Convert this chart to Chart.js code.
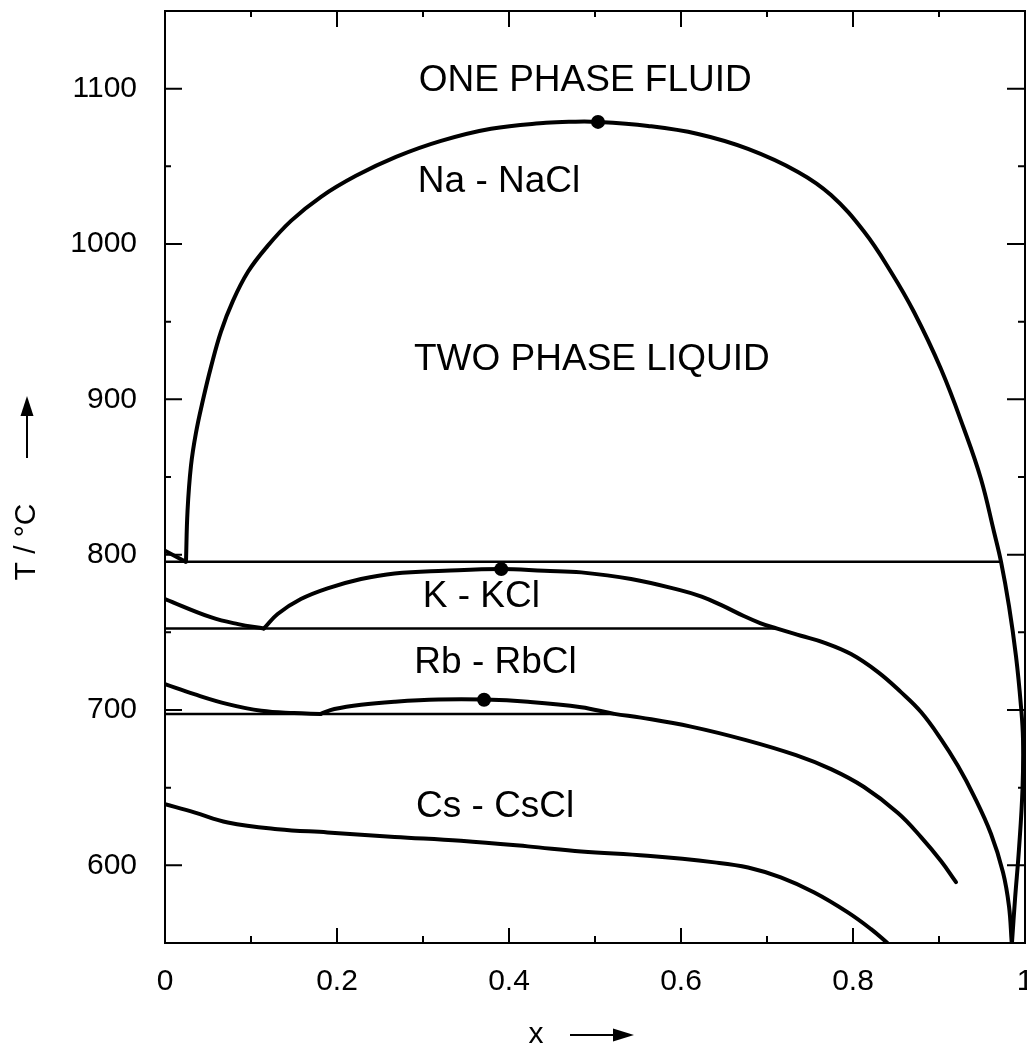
<!DOCTYPE html>
<html><head><meta charset="utf-8">
<script src="https://cdn.jsdelivr.net/npm/chart.js@4.4.0/dist/chart.umd.min.js"></script>
<style>html,body{margin:0;padding:0;background:#fff}#wrap{width:1027px;height:1050px}</style>
</head><body><div id="wrap"><canvas id="c" width="1027" height="1050"></canvas></div>
<script>
// ---- axis ticks ----
const xTickValues = [0, 0.2, 0.4, 0.6, 0.8, 1];
const xTickLabels = ['0', '0.2', '0.4', '0.6', '0.8', '1'];
const xMinorValues = [0.1, 0.3, 0.5, 0.7, 0.9];
const yTickValues = [600, 700, 800, 900, 1000, 1100];
const yTickLabels = ['600', '700', '800', '900', '1000', '1100'];
const yMinorValues = [650, 750, 850, 950, 1050];

// ---- Na - NaCl ----
const naLiqX = [0, 0.024];
const naLiqT = [802.5, 795.5];
const naDomeX = [0.0244, 0.0262, 0.0302, 0.036, 0.0442, 0.0535, 0.065, 0.079, 0.0965, 0.1174, 0.1465, 0.1814, 0.222, 0.2686, 0.321, 0.3791, 0.443, 0.4725, 0.5035, 0.5616, 0.6198, 0.6779, 0.736, 0.7744, 0.8128, 0.8442, 0.8709, 0.9023, 0.9291, 0.9488, 0.964, 0.9721, 0.9814, 0.9895, 0.9953, 0.9977, 0.9971, 0.993, 0.9884, 0.9849];
const naDomeT = [795.5, 828.2, 857.2, 878.4, 899.7, 920.9, 943.5, 963.4, 982.1, 997.5, 1014.9, 1030.4, 1043.9, 1056.1, 1066.4, 1074.2, 1078, 1078.7, 1078.6, 1076.0, 1070.8, 1061.2, 1046.4, 1031.5, 1008.0, 982.0, 956.2, 919.5, 880.9, 848.7, 814.6, 795.5, 766.9, 734.7, 702.5, 681, 649, 610.4, 578.2, 550.5];
const naLineX = [0, 0.972];
const naLineT = [795.5, 795.5];

// ---- K - KCl ----
const kLiqX = [0, 0.054, 0.085, 0.115];
const kLiqT = [771.4, 759.6, 755.3, 752.5];
const kDomeX = [0.115, 0.131, 0.158, 0.189, 0.228, 0.267, 0.325, 0.391, 0.441, 0.484, 0.542, 0.600, 0.624, 0.647, 0.673, 0.692, 0.711, 0.7395, 0.7663, 0.7977, 0.8291, 0.8558, 0.8791, 0.9023, 0.9221, 0.9407, 0.9605, 0.9744, 0.9814, 0.9845];
const kDomeT = [752.5, 761.8, 771.4, 778.3, 784.3, 787.9, 789.6, 790.7, 789.6, 788.6, 784.3, 777, 773, 767.5, 760.5, 756, 752.5, 747.8, 743.4, 736.0, 724.4, 711.5, 698.7, 681.3, 663.9, 644.6, 620.2, 595.6, 573.7, 550.5];
const kLineX = [0, 0.711];
const kLineT = [752.5, 752.5];

// ---- Rb - RbCl ----
const rbLiqX = [0, 0.034, 0.073, 0.112, 0.150, 0.181];
const rbLiqT = [716.7, 710.2, 703.8, 699.5, 698.0, 697.5];
const rbDomeX = [0.181, 0.197, 0.228, 0.267, 0.318, 0.371, 0.422, 0.484, 0.5225, 0.5535, 0.6116, 0.6756, 0.7337, 0.7744, 0.8128, 0.8523, 0.8791, 0.9023, 0.9198];
const rbDomeT = [697.5, 700.6, 703.4, 705.3, 706.7, 706.7, 705.3, 701.8, 697.5, 695.1, 689.3, 680.6, 670.9, 661.9, 650.4, 633.7, 618.2, 602.8, 589.2];
const rbLineX = [0, 0.5225];
const rbLineT = [697.5, 697.5];

// ---- Cs - CsCl ----
const csX = [0, 0.034, 0.073, 0.131, 0.189, 0.267, 0.344, 0.422, 0.484, 0.561, 0.639, 0.678, 0.716, 0.755, 0.794, 0.821, 0.840];
const csT = [639.4, 634.1, 627.6, 623.3, 621.2, 618.3, 615.8, 612.2, 608.9, 606.1, 601.9, 598.6, 592.2, 582.5, 569.7, 558.9, 550];

// ---- critical points ----
const critX = [0.5035, 0.391, 0.371];
const critT = [1078.6, 790.7, 706.6];

// ---- region labels (text) ----
const labelTexts = ['ONE PHASE FLUID', 'Na - NaCl', 'TWO PHASE LIQUID', 'K - KCl', 'Rb - RbCl', 'Cs - CsCl'];
const labelX = [0.295, 0.294, 0.2895, 0.2997, 0.2899, 0.2919];
const labelT = [1105.3, 1040.2, 925.6, 773.0, 730.2, 637.8];

const FONT = '"Liberation Sans", Arial, sans-serif';
const pts = (xs, ts) => xs.map((v, i) => ({x: v, y: ts[i]}));
const curve = (xs, ts) => ({data: pts(xs, ts), showLine: true, borderColor: '#000', borderWidth: 4, pointRadius: 0, tension: 0.4, borderCapStyle: 'round', borderJoinStyle: 'round', fill: false});
const hline = (xs, ts) => ({data: pts(xs, ts), showLine: true, borderColor: '#000', borderWidth: 2.5, pointRadius: 0, tension: 0, fill: false});

const framePlugin = {
  id: 'frame',
  afterDraw(chart) {
    const {ctx, chartArea: a, scales: {x, y}} = chart;
    ctx.save();
    ctx.strokeStyle = '#000';
    ctx.lineWidth = 2;
    ctx.strokeRect(a.left, a.top, a.right - a.left, a.bottom - a.top);
    ctx.beginPath();
    const xt = (vals, lb, lt) => vals.forEach(v => {
      const px = x.getPixelForValue(v);
      ctx.moveTo(px, a.bottom); ctx.lineTo(px, a.bottom - lb);
      ctx.moveTo(px, a.top); ctx.lineTo(px, a.top + lt);
    });
    const yt = (vals, ll, lr) => vals.forEach(v => {
      const py = y.getPixelForValue(v);
      ctx.moveTo(a.left, py); ctx.lineTo(a.left + ll, py);
      ctx.moveTo(a.right, py); ctx.lineTo(a.right - lr, py);
    });
    xt(xTickValues, 15, 16);
    xt(xMinorValues, 7, 6);
    yt(yTickValues, 17, 18);
    yt(yMinorValues, 6, 7);
    ctx.stroke();

    // region labels
    ctx.fillStyle = '#000';
    ctx.font = '37px ' + FONT;
    ctx.textAlign = 'left';
    ctx.textBaseline = 'middle';
    labelTexts.forEach((t, i) => ctx.fillText(t, x.getPixelForValue(labelX[i]), y.getPixelForValue(labelT[i])));

    // x axis title with arrow
    ctx.font = '30px ' + FONT;
    ctx.textAlign = 'center';
    ctx.textBaseline = 'alphabetic';
    ctx.fillText('x', 536, 1043);
    const ay = 1035;
    ctx.lineWidth = 2;
    ctx.beginPath(); ctx.moveTo(570, ay); ctx.lineTo(616, ay); ctx.stroke();
    ctx.beginPath(); ctx.moveTo(634, ay); ctx.lineTo(613, ay - 6.5); ctx.lineTo(613, ay + 6.5); ctx.closePath(); ctx.fill();

    // y axis title with arrow
    ctx.save();
    ctx.translate(27, 542);
    ctx.rotate(-Math.PI / 2);
    ctx.textAlign = 'center';
    ctx.textBaseline = 'middle';
    ctx.fillText('T / °C', 0, 0);
    ctx.restore();
    const ax = 27;
    ctx.beginPath(); ctx.moveTo(ax, 458); ctx.lineTo(ax, 412); ctx.stroke();
    ctx.beginPath(); ctx.moveTo(ax, 396); ctx.lineTo(ax - 6.5, 416); ctx.lineTo(ax + 6.5, 416); ctx.closePath(); ctx.fill();
    ctx.restore();
  }
};

new Chart(document.getElementById('c'), {
  type: 'scatter',
  data: {
    datasets: [
      hline(naLineX, naLineT), curve(naLiqX, naLiqT), curve(naDomeX, naDomeT),
      hline(kLineX, kLineT), curve(kLiqX, kLiqT), curve(kDomeX, kDomeT),
      hline(rbLineX, rbLineT), curve(rbLiqX, rbLiqT), curve(rbDomeX, rbDomeT),
      curve(csX, csT),
      {data: pts(critX, critT), showLine: false, pointRadius: 7, pointBackgroundColor: '#000', pointBorderColor: '#000', pointBorderWidth: 0}
    ]
  },
  options: {
    responsive: false,
    animation: false,
    devicePixelRatio: 1,
    layout: {autoPadding: false, padding: {left: 0, right: 2, top: 11, bottom: 0}},
    plugins: {legend: {display: false}, tooltip: {enabled: false}},
    scales: {
      x: {
        type: 'linear', min: 0, max: 1, position: 'bottom',
        afterBuildTicks: s => { s.ticks = xTickValues.map(v => ({value: v})); },
        afterFit: s => { s.height = 107; s.paddingLeft = 0; s.paddingRight = 0; },
        ticks: {callback: (v, i) => xTickLabels[i], font: {family: FONT, size: 30}, color: '#000', padding: 21, maxRotation: 0, autoSkip: false},
        grid: {display: false, drawTicks: false},
        border: {display: false}
      },
      y: {
        type: 'linear', min: 550, max: 1150, position: 'left',
        afterBuildTicks: s => { s.ticks = yTickValues.map(v => ({value: v})); },
        afterFit: s => { s.width = 165; s.paddingTop = 0; s.paddingBottom = 0; },
        ticks: {callback: (v, i) => yTickLabels[i], font: {family: FONT, size: 30}, color: '#000', padding: 28, autoSkip: false},
        grid: {display: false, drawTicks: false},
        border: {display: false}
      }
    }
  },
  plugins: [framePlugin]
});
</script>
</body></html>
